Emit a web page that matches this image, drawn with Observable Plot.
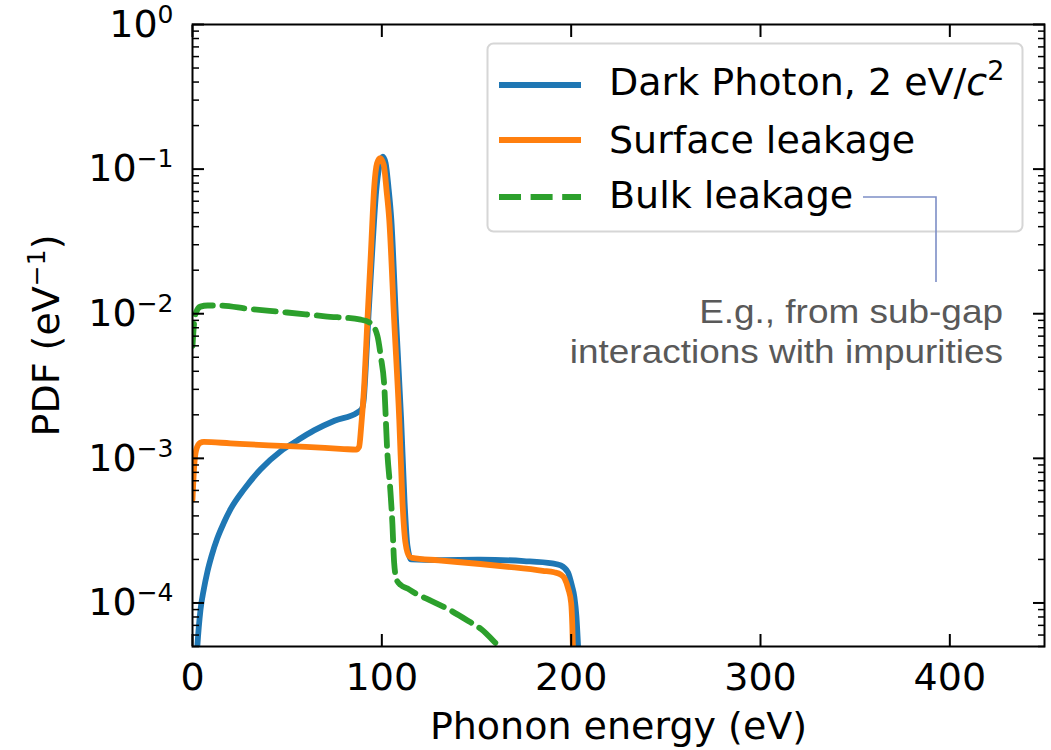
<!DOCTYPE html>
<html>
<head>
<meta charset="utf-8">
<script src="https://cdn.jsdelivr.net/npm/d3@7"></script>
<script src="https://cdn.jsdelivr.net/npm/@observablehq/plot@0.6"></script>
<style>
  html, body { margin: 0; padding: 0; background: #fff; }
  #wrap { position: relative; width: 1051px; height: 750px; overflow: hidden; }
  #wrap > svg { display: block; position: absolute; left: 0; top: 0; }
</style>
</head>
<body>
<div id="wrap"></div>
<script>
// ---------------- data ----------------
const seriesNames = ["Dark Photon, 2 eV/c²", "Surface leakage", "Bulk leakage"];
const seriesColors = ["#1f77b4", "#ff7f0e", "#2ca02c"];

const darkPhotonE = [1.5, 2.6, 4.2, 6, 7.8, 10, 13.1, 16.5, 20.1, 27.2, 36, 46.6, 55, 64.2, 75, 87, 89.5, 90.5, 91.5, 93, 95, 97, 98.7, 100.5, 102, 103.5, 105, 107.5, 110.2, 112, 113.5, 115.5, 130, 152, 175, 190, 194.5, 198.3, 200.5, 201.7, 202.8, 203.5, 204];
const darkPhotonPdf = [2.9e-5, 5.1e-5, 8.9e-5, 1.25e-4, 1.63e-4, 2.1e-4, 2.8e-4, 3.57e-4, 4.45e-4, 6.1e-4, 8.4e-4, 1.12e-3, 1.32e-3, 1.56e-3, 1.82e-3, 2.07e-3, 2.2e-3, 2.6e-3, 4.2e-3, 1.0e-2, 2.8e-2, 7e-2, 1.05e-1, 1.22e-1, 1.1e-1, 7.5e-2, 4.5e-2, 9.1e-3, 1.86e-3, 5e-4, 2.5e-4, 2e-4, 1.98e-4, 1.99e-4, 1.95e-4, 1.88e-4, 1.82e-4, 1.63e-4, 1.3e-4, 1.1e-4, 8e-5, 5.5e-5, 4e-5];

const surfaceE = [0, 0.8, 2, 4, 6, 20, 40, 60, 80, 86.5, 88, 89, 90.7, 92.4, 94.2, 96, 97.5, 99.1, 101, 102.5, 103.9, 106.5, 109.2, 110.9, 112.5, 114.5, 116, 130, 152, 170, 185, 191, 194.5, 196.5, 198.5, 200, 200.6, 201];
const surfacePdf = [5.2e-4, 8.5e-4, 1.15e-3, 1.28e-3, 1.3e-3, 1.27e-3, 1.23e-3, 1.2e-3, 1.16e-3, 1.15e-3, 1.2e-3, 1.6e-3, 3.2e-3, 9.1e-3, 2.6e-2, 7.6e-2, 1.1e-1, 1.19e-1, 1.07e-1, 7.1e-2, 4.5e-2, 9.1e-3, 1.86e-3, 5e-4, 2.6e-4, 2.1e-4, 2.05e-4, 1.97e-4, 1.86e-4, 1.76e-4, 1.67e-4, 1.63e-4, 1.57e-4, 1.48e-4, 1.25e-4, 1.0e-4, 7e-5, 4.5e-5];

const bulkE = [0, 0.8, 2, 4.2, 8, 13, 30, 50, 70, 88.9, 94.2, 97.7, 99.5, 101.2, 102.9, 104.5, 105.6, 106.5, 107.8, 110, 113.6, 117, 125, 134.8, 145, 152.4, 161.2, 166];
const bulkPdf = [6e-3, 8.5e-3, 1.03e-2, 1.12e-2, 1.14e-2, 1.14e-2, 1.08e-2, 1.02e-2, 9.6e-3, 9.1e-3, 8.6e-3, 7e-3, 5e-3, 3.3e-3, 1.1e-3, 6e-4, 3.5e-4, 1.9e-4, 1.45e-4, 1.33e-4, 1.26e-4, 1.18e-4, 1.05e-4, 9.1e-5, 7.6e-5, 6.6e-5, 5.1e-5, 4.4e-5];

const xTicks = [0, 100, 200, 300, 400];
const xTickLabels = ["0", "100", "200", "300", "400"];
const yTicks = [1e-4, 1e-3, 1e-2, 1e-1, 1];
const yTickLabels = ["10⁻⁴", "10⁻³", "10⁻²", "10⁻¹", "10⁰"];
const xLabel = "Phonon energy (eV)";
const yLabel = "PDF (eV⁻¹)";
const noteLines = ["E.g., from sub-gap", "interactions with impurities"];

// ---------------- build ----------------
const toRows = (E, P) => E.map((e, i) => ({e, p: P[i]}));
const darkRows = toRows(darkPhotonE, darkPhotonPdf);
const surfRows = toRows(surfaceE, surfacePdf);
const bulkRows = toRows(bulkE, bulkPdf);

const yMinor = [];
for (let p = -5; p < 0; p++) for (let k = 2; k <= 9; k++) {
  const v = k * Math.pow(10, p);
  if (v >= 5e-5 && v < 1) yMinor.push(v);
}
const blank = () => "";
const LW = 5.8;

const chart = Plot.plot({
  width: 1051,
  height: 750,
  marginLeft: 192,
  marginRight: 7,
  marginTop: 24,
  marginBottom: 104,
  style: {fontFamily: "'DejaVu Sans', sans-serif", fontSize: "38px", color: "#000", background: "transparent", overflow: "visible"},
  x: {domain: [0, 450]},
  y: {type: "log", domain: [5e-5, 1]},
  marks: [
    Plot.line(darkRows, {x: "e", y: "p", stroke: seriesColors[0], strokeWidth: LW, curve: "monotone-x", clip: true}),
    Plot.line(surfRows, {x: "e", y: "p", stroke: seriesColors[1], strokeWidth: LW, curve: "monotone-x", clip: true}),
    Plot.line(bulkRows, {x: "e", y: "p", stroke: seriesColors[2], strokeWidth: LW, strokeDasharray: "22,9.6", curve: "monotone-x", clip: true}),
    Plot.frame({stroke: "#000", strokeWidth: 2}),
    Plot.axisX({anchor: "bottom", ticks: xTicks, tickFormat: (d) => xTickLabels[xTicks.indexOf(d)], tickSize: -12, tickPadding: 29, strokeWidth: 2, label: null, fontSize: 38}),
    Plot.axisX({anchor: "top", ticks: xTicks, tickFormat: blank, tickSize: -12, tickPadding: 0, strokeWidth: 2, label: null}),
    Plot.axisY({anchor: "left", ticks: yTicks, tickFormat: (d) => yTickLabels[yTicks.indexOf(d)], tickSize: -12, tickPadding: 31, strokeWidth: 2, label: null, fontSize: 38}),
    Plot.axisY({anchor: "left", ticks: yMinor, tickFormat: blank, tickSize: -7, tickPadding: 0, strokeWidth: 1.5, label: null}),
    Plot.axisY({anchor: "right", ticks: yTicks, tickFormat: blank, tickSize: -12, tickPadding: 0, strokeWidth: 2, label: null}),
    Plot.axisY({anchor: "right", ticks: yMinor, tickFormat: blank, tickSize: -7, tickPadding: 0, strokeWidth: 1.5, label: null}),
    Plot.text([xLabel], {frameAnchor: "bottom", dy: 80, textAnchor: "middle", lineAnchor: "middle", fontSize: 38, fill: "#000"}),
    Plot.text([yLabel], {frameAnchor: "left", dx: -146, rotate: -90, textAnchor: "middle", lineAnchor: "middle", fontSize: 38, fill: "#000"})
  ]
});
document.getElementById("wrap").appendChild(chart);

// Render unicode superscripts as real raised tspans (mathtext-like look)
const SVGNS = "http://www.w3.org/2000/svg";
const supMap = {"⁻": "−", "⁰": "0", "¹": "1", "²": "2", "³": "3", "⁴": "4", "⁵": "5", "⁶": "6", "⁷": "7", "⁸": "8", "⁹": "9"};
const supRe = /[⁻⁰¹²³⁴⁵⁶⁷⁸⁹]+/;
Array.from(chart.querySelectorAll("text, tspan")).forEach((t) => {
  if (t.children.length > 0) return;
  const s = t.textContent || "";
  const m = s.match(supRe);
  if (!m) return;
  const before = s.slice(0, m.index);
  const sup = Array.from(m[0]).map((c) => supMap[c] || c).join("");
  const after = s.slice(m.index + m[0].length);
  while (t.firstChild) t.removeChild(t.firstChild);
  t.appendChild(document.createTextNode(before));
  const ts = document.createElementNS(SVGNS, "tspan");
  ts.setAttribute("font-size", "25");
  ts.setAttribute("dy", "-14");
  ts.textContent = sup;
  t.appendChild(ts);
  if (after) {
    const ta = document.createElementNS(SVGNS, "tspan");
    ta.setAttribute("dy", "14");
    ta.textContent = after;
    t.appendChild(ta);
  }
});

// ---------------- legend + annotation overlay ----------------
const ov = document.createElementNS(SVGNS, "svg");
ov.setAttribute("width", 1051);
ov.setAttribute("height", 750);
ov.style.pointerEvents = "none";
ov.innerHTML = `
  <rect x="487.5" y="43.5" width="535" height="188" rx="6" ry="6" fill="rgba(255,255,255,0.85)" stroke="#d6d6d6" stroke-width="2"/>
  <line x1="499" x2="581" y1="85" y2="85" stroke="${seriesColors[0]}" stroke-width="${LW}"/>
  <line x1="499" x2="581" y1="140" y2="140" stroke="${seriesColors[1]}" stroke-width="${LW}"/>
  <line x1="499" x2="581" y1="197" y2="197" stroke="${seriesColors[2]}" stroke-width="${LW}" stroke-dasharray="22,9.6"/>
  <g font-family="'DejaVu Sans', sans-serif" font-size="38" fill="#000">
    <text x="609" y="95">Dark Photon, 2 eV/<tspan font-style="italic">c</tspan><tspan font-size="27" dy="-15">2</tspan></text>
    <text x="609" y="153">${seriesNames[1]}</text>
    <text x="609" y="208">${seriesNames[2]}</text>
  </g>
  <polyline points="863,197 936,197 936,282" fill="none" stroke="#7d8ec6" stroke-width="1.6"/>
  <g font-family="'Liberation Sans', Arial, sans-serif" font-size="33" fill="#595959" text-anchor="end" transform="translate(1003,0) scale(1.12,1) translate(-1003,0)">
    <text x="1003" y="323">${noteLines[0]}</text>
    <text x="1003" y="363">${noteLines[1]}</text>
  </g>
`;
document.getElementById("wrap").appendChild(ov);
</script>
</body>
</html>
